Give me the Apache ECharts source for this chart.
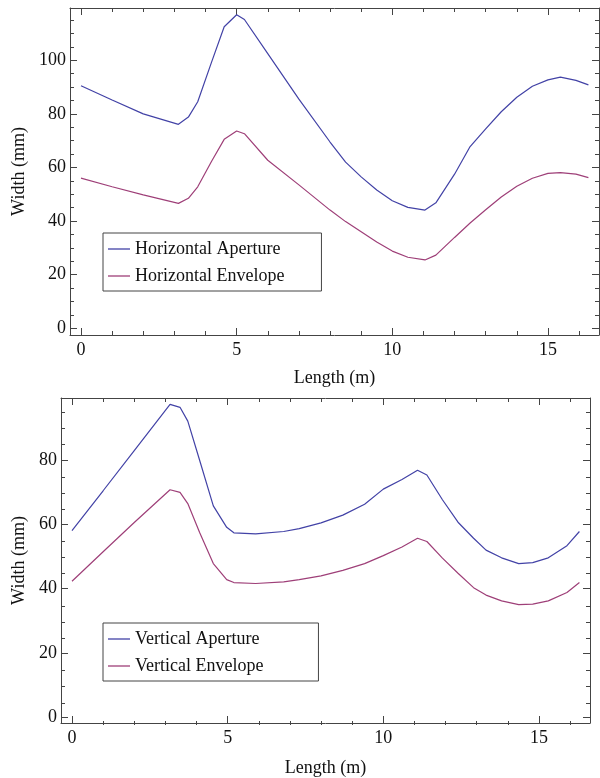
<!DOCTYPE html>
<html>
<head>
<meta charset="utf-8">
<script src="https://cdn.jsdelivr.net/npm/echarts@6/dist/echarts.min.js"></script>
<style>
  html, body { margin: 0; padding: 0; background: #fff; }
  #chart { width: 600px; height: 778px; }
</style>
</head>
<body>
<div id="chart"></div>
<script>
// top panel: horizontal widths along the line
const lengthH = [0, 1, 2, 3.13, 3.45, 3.75, 4.2, 4.6, 5.0, 5.25, 6, 7, 8, 8.5, 9, 9.5, 10, 10.5, 11.05, 11.4, 12, 12.5, 13, 13.5, 14, 14.5, 15, 15.4, 15.9, 16.3];
const horizontalAperture = [90.5, 85.2, 80.0, 76.1, 78.8, 84.5, 99.5, 112.5, 117, 115.2, 102.5, 85.5, 69.5, 62, 56.5, 51.6, 47.6, 45.1, 44.1, 46.8, 57.5, 67.8, 74.4, 80.8, 86.2, 90.3, 92.7, 93.7, 92.5, 90.8];
const horizontalEnvelope = [56, 52.8, 49.8, 46.6, 48.5, 52.8, 62.4, 70.5, 73.6, 72.6, 62.7, 53.5, 44.1, 39.8, 36, 32.2, 28.8, 26.5, 25.5, 27.3, 33.9, 39.3, 44.2, 49, 53, 56, 57.8, 58.1, 57.5, 56.2];

// bottom panel: vertical widths
const lengthV = [0, 1, 2, 3.15, 3.47, 3.72, 4.1, 4.54, 4.97, 5.2, 5.9, 6.8, 7.3, 8, 8.7, 9.4, 10, 10.6, 11.1, 11.4, 11.9, 12.4, 12.9, 13.3, 13.8, 14.35, 14.8, 15.3, 15.9, 16.3];
const verticalAperture = [58.1, 70.5, 83, 97.4, 96.5, 92.2, 80, 65.8, 59.1, 57.4, 57.05, 57.8, 58.7, 60.5, 62.9, 66.3, 71, 74, 76.9, 75.4, 67.7, 60.7, 55.7, 52, 49.6, 47.8, 48.1, 49.6, 53.4, 57.8];
const verticalEnvelope = [42.3, 51.5, 60.6, 70.8, 70, 66.5, 57.5, 47.8, 42.8, 41.9, 41.6, 42.1, 42.8, 44, 45.7, 47.8, 50.3, 53, 55.7, 54.7, 49.5, 44.8, 40.3, 38, 36.2, 35, 35.2, 36.2, 38.8, 41.9];

// ticks
const xMajor = [0, 5, 10, 15];
const xMinor = [1, 2, 3, 4, 6, 7, 8, 9, 11, 12, 13, 14, 16];
const yMajorTop = [0, 20, 40, 60, 80, 100];
const yMinorTop = [5, 10, 15, 25, 30, 35, 45, 50, 55, 65, 70, 75, 85, 90, 95, 105, 110, 115];
const yMajorBottom = [0, 20, 40, 60, 80];
const yMinorBottom = [5, 10, 15, 25, 30, 35, 45, 50, 55, 65, 70, 75, 85, 90, 95];

const FONT = "Liberation Serif";
const frameColor = "#444";
const blue = "#4242a6";
const plum = "#9e3f78";

const topRect = { left: 70, top: 8, width: 529, height: 327 };
const bottomRect = { left: 61, top: 398, width: 529, height: 327 };

const zip = (xs, ys) => xs.map((x, i) => [x, ys[i]]);

// major frame: one axis per side, labels + name only on bottom/left
function majorAxes(dim, gridIndex, min, max, ticks, name, nameGap) {
  const sides = dim === "x" ? ["bottom", "top"] : ["left", "right"];
  return sides.map((side, i) => ({
    type: "value",
    gridIndex,
    position: side,
    min,
    max,
    splitLine: { show: false },
    axisLine: { show: true, onZero: false, lineStyle: { color: frameColor, width: 1 } },
    axisTick: { show: true, inside: true, length: 7, customValues: ticks, lineStyle: { color: frameColor } },
    axisLabel: {
      show: i === 0,
      customValues: ticks,
      margin: dim === "x" ? 6 : 4,
      color: "#111",
      fontFamily: FONT,
      fontSize: 18,
    },
    name: i === 0 ? name : "",
    nameLocation: "middle",
    nameGap,
    nameRotate: dim === "y" ? 90 : 0,
    nameTextStyle: { color: "#111", fontFamily: FONT, fontSize: 18 },
  }));
}

// minor ticks live on an overlaid grid so each side keeps a single axis
function minorAxes(dim, gridIndex, min, max, ticks) {
  const sides = dim === "x" ? ["bottom", "top"] : ["left", "right"];
  return sides.map((side) => ({
    type: "value",
    gridIndex,
    position: side,
    min,
    max,
    splitLine: { show: false },
    axisLine: { show: false, onZero: false },
    axisTick: { show: true, inside: true, length: 4, customValues: ticks, lineStyle: { color: frameColor } },
    axisLabel: { show: false },
  }));
}

const line = (name, data, color, xi, yi) => ({
  name,
  type: "line",
  xAxisIndex: xi,
  yAxisIndex: yi,
  data,
  symbol: "none",
  color,
  lineStyle: { color, width: 1.2 },
});

const legendBase = {
  orient: "vertical",
  left: 103,
  icon: "rect",
  itemWidth: 22,
  itemHeight: 1.3,
  itemGap: 9,
  borderColor: frameColor,
  borderWidth: 1,
  backgroundColor: "#fff",
  textStyle: { color: "#111", fontFamily: FONT, fontSize: 18, lineHeight: 18 },
};

const option = {
  animation: false,
  grid: [topRect, bottomRect, topRect, bottomRect],
  xAxis: [
    ...majorAxes("x", 0, -0.353, 16.64, xMajor, "Length (m)", 34),
    ...majorAxes("x", 1, -0.353, 16.64, xMajor, "Length (m)", 36),
    ...minorAxes("x", 2, -0.353, 16.64, xMinor),
    ...minorAxes("x", 3, -0.353, 16.64, xMinor),
  ],
  yAxis: [
    ...majorAxes("y", 0, -2.5, 119.5, yMajorTop, "Width (mm)", 42),
    ...majorAxes("y", 1, -1.86, 99.4, yMajorBottom, "Width (mm)", 33),
    ...minorAxes("y", 2, -2.5, 119.5, yMinorTop),
    ...minorAxes("y", 3, -1.86, 99.4, yMinorBottom),
  ],
  legend: [
    {
      ...legendBase,
      top: 233,
      padding: [7, 37, 6, 5],
      data: ["Horizontal Aperture", "Horizontal Envelope"],
    },
    {
      ...legendBase,
      top: 623,
      padding: [7, 55, 6, 5],
      data: ["Vertical Aperture", "Vertical Envelope"],
    },
  ],
  series: [
    line("Horizontal Aperture", zip(lengthH, horizontalAperture), blue, 0, 0),
    line("Horizontal Envelope", zip(lengthH, horizontalEnvelope), plum, 0, 0),
    line("Vertical Aperture", zip(lengthV, verticalAperture), blue, 2, 2),
    line("Vertical Envelope", zip(lengthV, verticalEnvelope), plum, 2, 2),
  ],
};

const chart = echarts.init(document.getElementById("chart"));
chart.setOption(option);
</script>
</body>
</html>
